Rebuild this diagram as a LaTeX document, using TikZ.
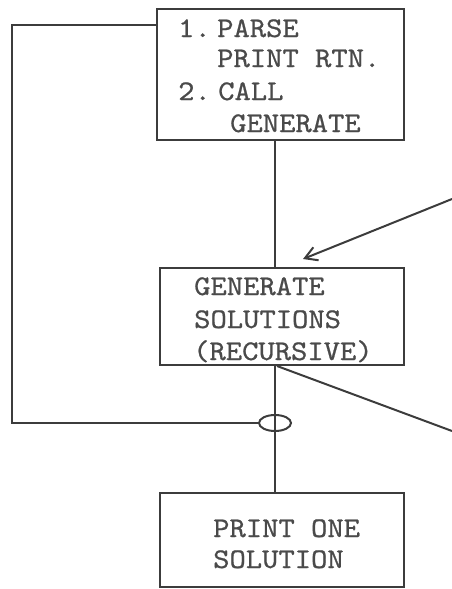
\documentclass[tikz,border=0pt]{standalone}
\usepackage{fontspec}
\newfontfamily\tw{lmmono10-regular}[Extension=.otf,FakeBold=0.7]
\usetikzlibrary{arrows.meta,shapes.geometric}
\definecolor{ink}{HTML}{3C3C3C}
\definecolor{txt}{HTML}{4A4A4A}
\begin{document}
\begin{tikzpicture}[x=1pt,y=-1pt,
  box/.style={draw=ink,line width=2.3pt,rectangle,inner sep=0pt},
  lbl/.style={anchor=base west,inner sep=0pt,xscale=1.09,font=\tw\fontsize{28.5}{30}\selectfont,text=txt},
  ln/.style={draw=ink,line width=2pt}]
\useasboundingbox (0,0) rectangle (452,589);
% boxes
\node[box,minimum width=247pt,minimum height=131pt] (top) at (280.5,74.5) {};
\node[box,minimum width=244pt,minimum height=97pt] (gen) at (282,316.5) {};
\node[box,minimum width=244pt,minimum height=94pt] (pr) at (282,540) {};
% texts
\node[lbl] (t1) at (178,37) {1.};
\node[lbl] (t1b) at (217,37) {PARSE};
\node[lbl] (t2) at (217,67) {PRINT RTN.};
\node[lbl] (t3) at (178,100) {2.};
\node[lbl] (t3b) at (218,100) {CALL};
\node[lbl] (t4) at (230,132) {GENERATE};
\node[lbl] (g1) at (194,295) {GENERATE};
\node[lbl] (g2) at (194,328) {SOLUTIONS};
\node[lbl] (g3) at (193,360) {(RECURSIVE)};
\node[lbl] (p1) at (213,537) {PRINT ONE};
\node[lbl] (p2) at (213,568) {SOLUTION};
% oval junction
\coordinate (j) at (275,423);
\node[draw=ink,line width=2pt,ellipse,minimum width=32pt,minimum height=16pt,inner sep=0pt] (ov) at (j) {};
% connectors
\draw[ln] (top.south -| j) -- (gen.north -| j);
\draw[ln] (gen.south -| j) -- (pr.north -| j);
\coordinate (lt) at (12,25);
\draw[ln] (top.west |- lt) -- (lt) -- (lt |- ov) -- (ov.west);
\coordinate (a0) at (452,199);
\coordinate (a1) at (303,259);
\draw[ln,-{Straight Barb[length=12pt,width=14pt,line width=2pt]}] (a0) -- (a1);
\coordinate (d0) at (277,366);
\coordinate (d1) at (452,431);
\draw[ln] (d0) -- (d1);
\end{tikzpicture}
\end{document}
